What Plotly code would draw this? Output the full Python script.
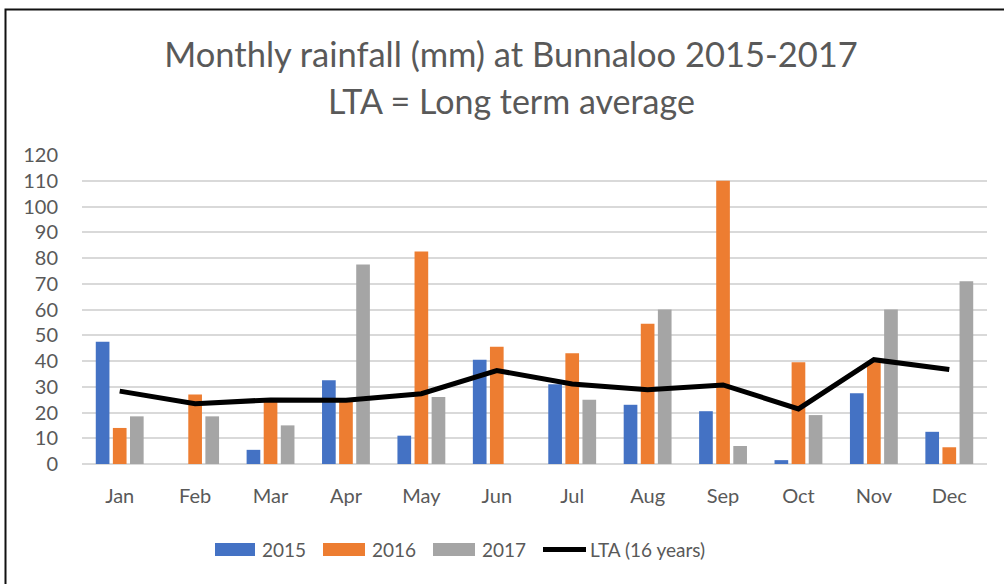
import plotly.graph_objects as go

months = ["Jan", "Feb", "Mar", "Apr", "May", "Jun", "Jul", "Aug", "Sep", "Oct", "Nov", "Dec"]
rain_2015 = [47.5, None, 5.5, 32.5, 11, 40.5, 31, 23, 20.5, 1.5, 27.5, 12.5]
rain_2016 = [14, 27, 24.5, 24.5, 82.5, 45.5, 43, 54.5, 110, 39.5, 39.5, 6.5]
rain_2017 = [18.5, 18.5, 15, 77.5, 26, None, 25, 60, 7, 19, 60, 71]
lta = [28.3, 23.4, 24.9, 24.8, 27.3, 36.3, 31.1, 28.8, 30.7, 21.4, 40.5, 36.7]
series_names = ["2015", "2016", "2017", "LTA (16 years)"]
colors = ["#4472C4", "#ED7D31", "#A5A5A5", "#000000"]
title_line1 = "Monthly rainfall (mm) at Bunnaloo 2015-2017"
title_line2 = "LTA = Long term average"

W, H = 1004, 584
L, R, T, B = 82, 17, 155, 120
PW, PH = W - L - R, H - T - B
FONT = "Lato"
TXT = "#595959"

def px_x(x):
    return (x - L) / PW

def px_y(y):
    return (H - B - y) / PH

fig = go.Figure()
for name, vals, col in zip(series_names[:3], [rain_2015, rain_2016, rain_2017], colors[:3]):
    fig.add_trace(go.Bar(x=months, y=vals, name=name, marker_color=col,
                         marker_line_width=0, showlegend=False))
fig.add_trace(go.Scatter(x=months, y=lta, name=series_names[3], mode="lines",
                         line=dict(color=colors[3], width=5), showlegend=False))

shapes = []
annotations = []
# outer chart border (left and top visible)
shapes.append(dict(type="rect", xref="paper", yref="paper",
                   x0=px_x(5.5), x1=px_x(1012), y0=px_y(592), y1=px_y(9.5),
                   line=dict(color="#111111", width=2), fillcolor="rgba(0,0,0,0)", layer="above"))

# custom legend
leg_y = 549.5
items = [(215, 255, 260), (323, 365, 370), (433, 475, 480)]
for (x0, x1, tx), name, col in zip(items, series_names[:3], colors[:3]):
    shapes.append(dict(type="rect", xref="paper", yref="paper",
                       x0=px_x(x0), x1=px_x(x1), y0=px_y(leg_y + 6.5), y1=px_y(leg_y - 6.5),
                       line=dict(width=0), fillcolor=col))
    annotations.append(dict(text=name, xref="paper", yref="paper", x=px_x(tx), y=px_y(leg_y),
                            xanchor="left", yanchor="middle", showarrow=False,
                            font=dict(family=FONT, size=19, color=TXT)))
shapes.append(dict(type="line", xref="paper", yref="paper",
                   x0=px_x(543), x1=px_x(586), y0=px_y(leg_y), y1=px_y(leg_y),
                   line=dict(color=colors[3], width=5)))
annotations.append(dict(text=series_names[3], xref="paper", yref="paper", x=px_x(588), y=px_y(leg_y),
                        xanchor="left", yanchor="middle", showarrow=False,
                        font=dict(family=FONT, size=19, color=TXT)))

annotations.append(dict(text=title_line2, xref="paper", yref="paper", x=px_x(511), y=px_y(100),
                        xanchor="center", yanchor="middle", showarrow=False,
                        font=dict(family=FONT, size=34, color=TXT)))

fig.update_layout(
    width=W, height=H,
    margin=dict(l=L, r=R, t=T, b=B, autoexpand=False),
    paper_bgcolor="white", plot_bgcolor="white",
    barmode="group", bargap=0.32, bargroupgap=0.2,
    title=dict(text=title_line1, x=511 / W, xanchor="center", xref="container",
               y=1 - 55 / H, yanchor="middle", yref="container",
               font=dict(family=FONT, size=34.5, color=TXT)),
    font=dict(family=FONT, color=TXT),
    shapes=shapes, annotations=annotations,
    showlegend=False,
)
fig.update_yaxes(range=[0, 120], dtick=10, showgrid=True, gridcolor="#D9D9D9", gridwidth=1.5,
                 zeroline=True, zerolinecolor="#D9D9D9", zerolinewidth=1.5,
                 showline=False, ticks="outside", ticklen=19, tickcolor="rgba(0,0,0,0)",
                 tickfont=dict(family=FONT, size=20, color=TXT), fixedrange=True)
fig.update_xaxes(showgrid=False, showline=False, ticks="", ticklabelstandoff=18,
                 tickfont=dict(family=FONT, size=20, color=TXT), fixedrange=True)

fig.write_html("out.html", config={"displayModeBar": False},
               post_script="document.body.style.margin='0';")
